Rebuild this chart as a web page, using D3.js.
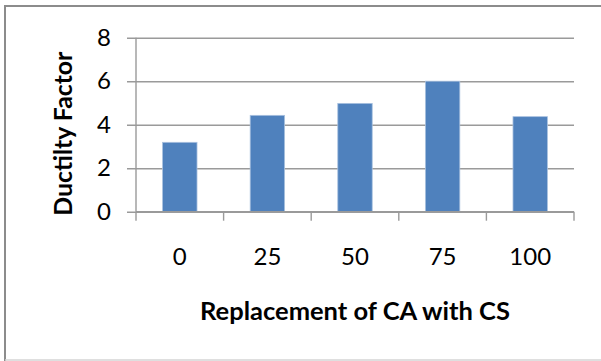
<!DOCTYPE html>
<html>
<head>
<meta charset="utf-8">
<script src="https://cdn.jsdelivr.net/npm/d3@7"></script>
<style>
  html, body { margin: 0; padding: 0; background: #fff; }
  svg { display: block; }
  text { font-family: Lato, "Open Sans", sans-serif; fill: #000; }
</style>
</head>
<body>
<svg id="chart" width="601" height="361"></svg>
<script>
// Ductility factor for each CA → CS replacement level (%)
const categories = ["0", "25", "50", "75", "100"];
const ductility = [3.19, 4.43, 4.98, 6.0, 4.37];
const yTicks = [0, 2, 4, 6, 8];
const xTitle = "Replacement of CA with CS";
const yTitle = "Ductilty Factor";

const svg = d3.select("#chart");
const W = 601, H = 361;
const plot = { left: 136, right: 574, top: 37.7, bottom: 211.7 };

// outer chart frame
svg.append("line").attr("x1", 5).attr("x2", W).attr("y1", 6).attr("y2", 6)
  .attr("stroke", "#8c8c8c").attr("stroke-width", 2);
svg.append("line").attr("x1", 5).attr("x2", 5).attr("y1", 5).attr("y2", H)
  .attr("stroke", "#8c8c8c").attr("stroke-width", 2);
svg.append("line").attr("x1", 5).attr("x2", W).attr("y1", 360).attr("y2", 360)
  .attr("stroke", "#d4d4d4").attr("stroke-width", 1.5);

const x = d3.scaleBand().domain(categories).range([plot.left, plot.right])
  .paddingInner(0).paddingOuter(0);
const y = d3.scaleLinear().domain([0, 8]).range([plot.bottom, plot.top]);

// horizontal gridlines with small left tick marks
const yAxis = d3.axisLeft(y).tickValues(yTicks)
  .tickSize(-(plot.right - plot.left)).tickPadding(25).tickFormat(d3.format("d"));
const gy = svg.append("g").attr("transform", `translate(${plot.left},0)`).call(yAxis);
gy.select(".domain").remove();
gy.selectAll(".tick line").attr("x1", -9).attr("stroke", "#9a9a9a").attr("stroke-width", 1.4);
gy.selectAll(".tick text").attr("font-size", 24).attr("fill", "#000")
  .style("font-family", "Lato, 'Open Sans', sans-serif");
svg.append("line").attr("x1", plot.left).attr("x2", plot.left)
  .attr("y1", plot.top).attr("y2", plot.bottom)
  .attr("stroke", "#9a9a9a").attr("stroke-width", 1.4);

// bars
const barW = x.bandwidth() * 0.393;
svg.append("g").selectAll("rect").data(categories).join("rect")
  .attr("x", (d) => x(d) + (x.bandwidth() - barW) / 2)
  .attr("width", barW)
  .attr("y", (d, i) => y(ductility[i]))
  .attr("height", (d, i) => y(0) - y(ductility[i]))
  .attr("fill", "#4f81bd")
  .attr("stroke", "#a9c1df").attr("stroke-width", 0.8);

// category axis with ticks at band boundaries
const gx = svg.append("g").attr("transform", `translate(0,${plot.bottom})`);
gx.append("line").attr("x1", plot.left).attr("x2", plot.right)
  .attr("stroke", "#9a9a9a").attr("stroke-width", 1.4);
const bounds = categories.map((c) => x(c)).concat([plot.right]);
gx.selectAll("line.tk").data(bounds).join("line").attr("class", "tk")
  .attr("x1", (d) => d).attr("x2", (d) => d).attr("y1", 0).attr("y2", 9)
  .attr("stroke", "#9a9a9a").attr("stroke-width", 1.4);
gx.selectAll("text").data(categories).join("text")
  .attr("x", (d) => x(d) + x.bandwidth() / 2)
  .attr("y", 53)
  .attr("text-anchor", "middle")
  .attr("font-size", 24)
  .text((d) => d);

// axis titles
svg.append("text").attr("x", 355).attr("y", 320)
  .attr("text-anchor", "middle").attr("font-size", 25.5).attr("font-weight", "bold")
  .text(xTitle);
svg.append("text")
  .attr("transform", `translate(72,${(plot.top + plot.bottom) / 2 + 9}) rotate(-90)`)
  .attr("text-anchor", "middle").attr("font-size", 24.8).attr("font-weight", "bold")
  .text(yTitle);
</script>
</body>
</html>
